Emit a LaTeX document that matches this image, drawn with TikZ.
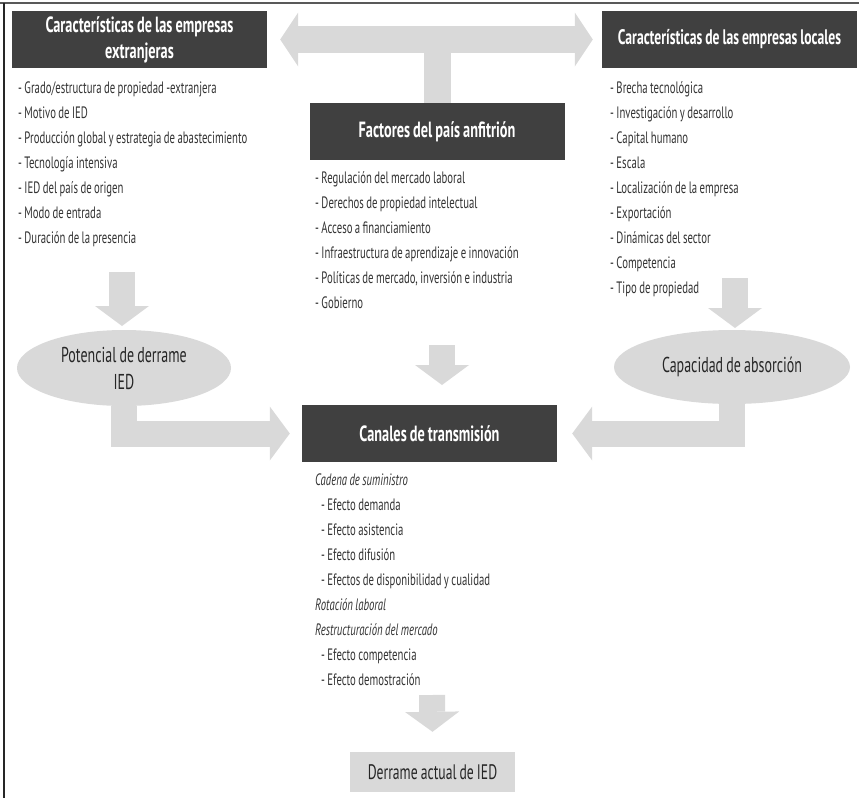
\documentclass[tikz,border=0pt]{standalone}
\usepackage{fontspec}
\setmainfont{PT Sans}[FakeStretch=0.65, WordSpace=0.85]
\usetikzlibrary{arrows.meta,shapes.geometric}

\definecolor{boxgray}{HTML}{404040}
\definecolor{arrowgray}{HTML}{D9D9D9}
\definecolor{textgray}{HTML}{333333}

\begin{document}
\begin{tikzpicture}[x=1pt,y=-1pt,
    darkbox/.style={fill=\BOXCOLOR, text=white, font=\bfseries\fontsize{22}{26}\selectfont,
        align=flush center, text width=251pt, inner sep=2pt, minimum height=57pt},
    lightoval/.style={ellipse, fill=\ARROWCOLOR, text=black!85, inner sep=0pt,
        align=flush center, font=\fontsize{21.5}{27}\selectfont},
    item/.style={anchor=base west, inner sep=0pt, text=\TEXTCOLOR, font=\fontsize{16.5}{18}\selectfont},
    flow/.style={draw=\ARROWCOLOR, line width=26pt,
        -{Triangle[width=54pt,length=20pt,line width=0pt]}},
    flowboth/.style={draw=\ARROWCOLOR, line width=27pt,
        {Triangle[width=54pt,length=18pt,line width=0pt]}-{Triangle[width=54pt,length=18pt,line width=0pt]}},
    stem/.style={draw=\ARROWCOLOR, line width=27pt}]

\def\BOXCOLOR{boxgray}
\def\ARROWCOLOR{arrowgray}
\def\TEXTCOLOR{textgray}
    \useasboundingbox (0,0) rectangle (859,798);
    \draw[line width=2pt, black!65] (0,3) -- (859,3);
    \draw[line width=2pt, black!85] (4,3) -- (4,798);

    % cajas oscuras
    \node[darkbox] (ext) at (139.5,39.5) {Características de las empresas\\extranjeras};
    \node[darkbox, font=\bfseries\fontsize{21}{26}\selectfont] (loc) at (729.5,39.5) {Características de las empresas locales};
    \node[darkbox] (fac) at (437,131.5) {Factores del país anfitrión};
    \node[darkbox] (can) at (429.5,433.5) {Canales de transmisión};

    % ovalos
    \node[lightoval, minimum width=214pt, minimum height=76pt] (pot) at (124,368) {Potencial de derrame\\IED};
    \node[lightoval, minimum width=236pt, minimum height=74pt] (cap) at (732,367) {Capacidad de absorción};

    \node[fill=\ARROWCOLOR, text=black!85, font=\fontsize{21}{24}\selectfont,
        minimum width=165pt, minimum height=40pt, inner sep=0pt] (der) at (432.5,772) {Derrame actual de IED};

    % listas
    \foreach \t [count=\i] in {- Grado/estructura de propiedad -extranjera, - Motivo de IED,
        - Producción global y estrategia de abastecimiento, - Tecnología intensiva,
        - IED del país de origen, - Modo de entrada, - Duración de la presencia}
        \node[item] (ext\i) at (18,{93+25*(\i-1)}) {\t};

    \foreach \t [count=\i] in {- Brecha tecnológica, - Investigación y desarrollo, - Capital humano,
        - Escala, - Localización de la empresa, - Exportación, - Dinámicas del sector,
        - Competencia, - Tipo de propiedad}
        \node[item] (loc\i) at (610,{93+25*(\i-1)}) {\t};

    \foreach \t [count=\i] in {- Regulación del mercado laboral, - Derechos de propiedad intelectual,
        - Acceso a financiamiento, - Infraestructura de aprendizaje e innovación,
        {- Políticas de mercado, inversión e industria}, - Gobierno}
        \node[item] (fac\i) at (315,{183+25*(\i-1)}) {\t};

    \foreach \dx/\t [count=\i] in {0/{\itshape Cadena de suministro}, 6/{- Efecto demanda},
        6/{- Efecto asistencia}, 6/{- Efecto difusión}, 6/{- Efectos de disponibilidad y cualidad},
        0/{\itshape Rotación laboral}, 0/{\itshape Restructuración del mercado},
        6/{- Efecto competencia}, 6/{- Efecto demostración}}
        \node[item] (can\i) at ({315+\dx},{485+25*(\i-1)}) {\t};

    % flechas
    \coordinate (extdown) at (122,272);
    \coordinate (facdown) at (442,345);
    \coordinate (locdown) at (735,278);
    \coordinate (candown) at (432,695);

    \draw[stem] (fac.north) -- (fac.north |- ext.east);
    \draw[flowboth] ([xshift=13pt]ext.east) -- ([xshift=-9pt]loc.west);
    \draw[flow] (extdown) -- ++(0,54);
    \draw[flow] (facdown) -- ++(0,40);
    \draw[flow] (locdown) -- ++(0,50);
    \draw[flow] (candown) -- ([yshift=20pt]der.north);
    \draw[flow] (pot.south) |- ([xshift=-12pt]can.west);
    \draw[flow] (cap.south) |- ([xshift=15pt]can.east);

\end{tikzpicture}
\end{document}
